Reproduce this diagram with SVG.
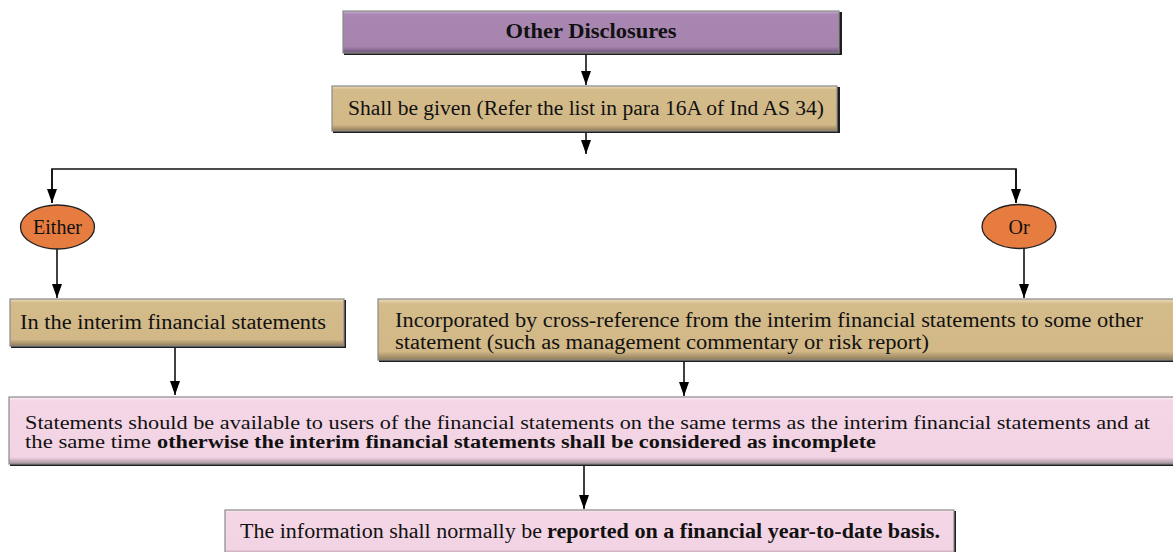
<svg xmlns="http://www.w3.org/2000/svg" width="1173" height="552" viewBox="0 0 1173 552">
<style>
text{font-family:'Liberation Serif','DejaVu Serif','Times New Roman',serif;font-size:20px;fill:#111}
.b{font-weight:bold}
.s{font-size:18.5px}
.c{stroke:#111;stroke-width:1.6;fill:none}
.sh{fill:#1e1e1e}
.bx{stroke:#8a8a8a;stroke-width:1.2}
.el{fill:#e77c40;stroke:#222;stroke-width:1.3}
</style>
<defs>
<linearGradient id="gP" x1="0" y1="0" x2="0" y2="1">
<stop offset="0" stop-color="#c9b0d1"/><stop offset="0.08" stop-color="#a987b2"/><stop offset="0.85" stop-color="#a584ae"/><stop offset="1" stop-color="#6e5476"/>
</linearGradient>
<linearGradient id="gT" x1="0" y1="0" x2="0" y2="1">
<stop offset="0" stop-color="#ecdcbc"/><stop offset="0.08" stop-color="#d4bb8a"/><stop offset="0.86" stop-color="#d2b887"/><stop offset="1" stop-color="#8e7b58"/>
</linearGradient>
<linearGradient id="gK" x1="0" y1="0" x2="0" y2="1">
<stop offset="0" stop-color="#fbecf4"/><stop offset="0.06" stop-color="#f4d6e6"/><stop offset="0.9" stop-color="#f2d3e3"/><stop offset="1" stop-color="#a48e99"/>
</linearGradient>
<marker id="a" viewBox="0 0 14 10" refX="14" refY="5" markerWidth="14" markerHeight="10" markerUnits="userSpaceOnUse" orient="auto">
<path d="M0,0 L14,5 L0,10 Z" fill="#000"/>
</marker>
</defs>

<g id="connectors">
<path class="c" d="M586,54 V85" marker-end="url(#a)"/>
<path class="c" d="M586,132 V154" marker-end="url(#a)"/>
<path class="c" d="M52,203 V169 H1016 V203"/>
<path class="c" d="M52,169 V203" marker-end="url(#a)"/>
<path class="c" d="M1016,169 V203" marker-end="url(#a)"/>
<path class="c" d="M57,249 V298" marker-end="url(#a)"/>
<path class="c" d="M1024,248 V298" marker-end="url(#a)"/>
<path class="c" d="M175,348 V395" marker-end="url(#a)"/>
<path class="c" d="M684,362 V396" marker-end="url(#a)"/>
<path class="c" d="M584,466 V509" marker-end="url(#a)"/>
</g>

<g id="other-disclosures">
<rect class="sh" x="344" y="12" width="498" height="43"/>
<rect class="bx" x="343" y="11" width="496" height="42" fill="url(#gP)"/>
<text class="b" x="591" y="38" text-anchor="middle" textLength="171" lengthAdjust="spacingAndGlyphs">Other Disclosures</text>
</g>

<g id="shall-be-given">
<rect class="sh" x="333" y="87" width="507" height="46"/>
<rect class="bx" x="332" y="86" width="505" height="45" fill="url(#gT)"/>
<text x="348" y="115" textLength="476" lengthAdjust="spacingAndGlyphs">Shall be given (Refer the list in para 16A of Ind AS 34)</text>
</g>

<g id="either">
<ellipse class="el" cx="57.5" cy="227" rx="37" ry="22"/>
<text x="57.5" y="234" text-anchor="middle">Either</text>
</g>

<g id="or">
<ellipse class="el" cx="1019" cy="226.5" rx="37" ry="22"/>
<text x="1019" y="234" text-anchor="middle">Or</text>
</g>

<g id="in-interim">
<rect class="sh" x="11" y="300" width="335" height="48"/>
<rect class="bx" x="10" y="299" width="334" height="47" fill="url(#gT)"/>
<text x="20" y="329" textLength="306" lengthAdjust="spacingAndGlyphs">In the interim financial statements</text>
</g>

<g id="incorporated">
<rect class="sh" x="379" y="300" width="800" height="62"/>
<rect class="bx" x="378" y="299" width="800" height="61" fill="url(#gT)"/>
<text x="395" y="327" textLength="748" lengthAdjust="spacingAndGlyphs">Incorporated by cross-reference from the interim financial statements to some other</text>
<text x="395" y="349" textLength="534" lengthAdjust="spacingAndGlyphs">statement (such as management commentary or risk report)</text>
</g>

<g id="statements">
<rect class="sh" x="10" y="398" width="1170" height="68"/>
<rect class="bx" x="9" y="397" width="1170" height="67" fill="url(#gK)"/>
<text class="s" x="25" y="429" textLength="1125" lengthAdjust="spacingAndGlyphs">Statements should be available to users of the financial statements on the same terms as the interim financial statements and at</text>
<text class="s" x="25" y="448" textLength="126" lengthAdjust="spacingAndGlyphs">the same time</text>
<text class="s b" x="157" y="448" textLength="719" lengthAdjust="spacingAndGlyphs">otherwise the interim financial statements shall be considered as incomplete</text>
</g>

<g id="reported">
<rect class="sh" x="226" y="511" width="730" height="45"/>
<rect class="bx" x="225" y="510" width="729" height="44" fill="url(#gK)"/>
<text x="240" y="538" textLength="302" lengthAdjust="spacingAndGlyphs">The information shall normally be</text>
<text class="b" x="547" y="538" textLength="393" lengthAdjust="spacingAndGlyphs">reported on a financial year-to-date basis.</text>
</g>
</svg>
